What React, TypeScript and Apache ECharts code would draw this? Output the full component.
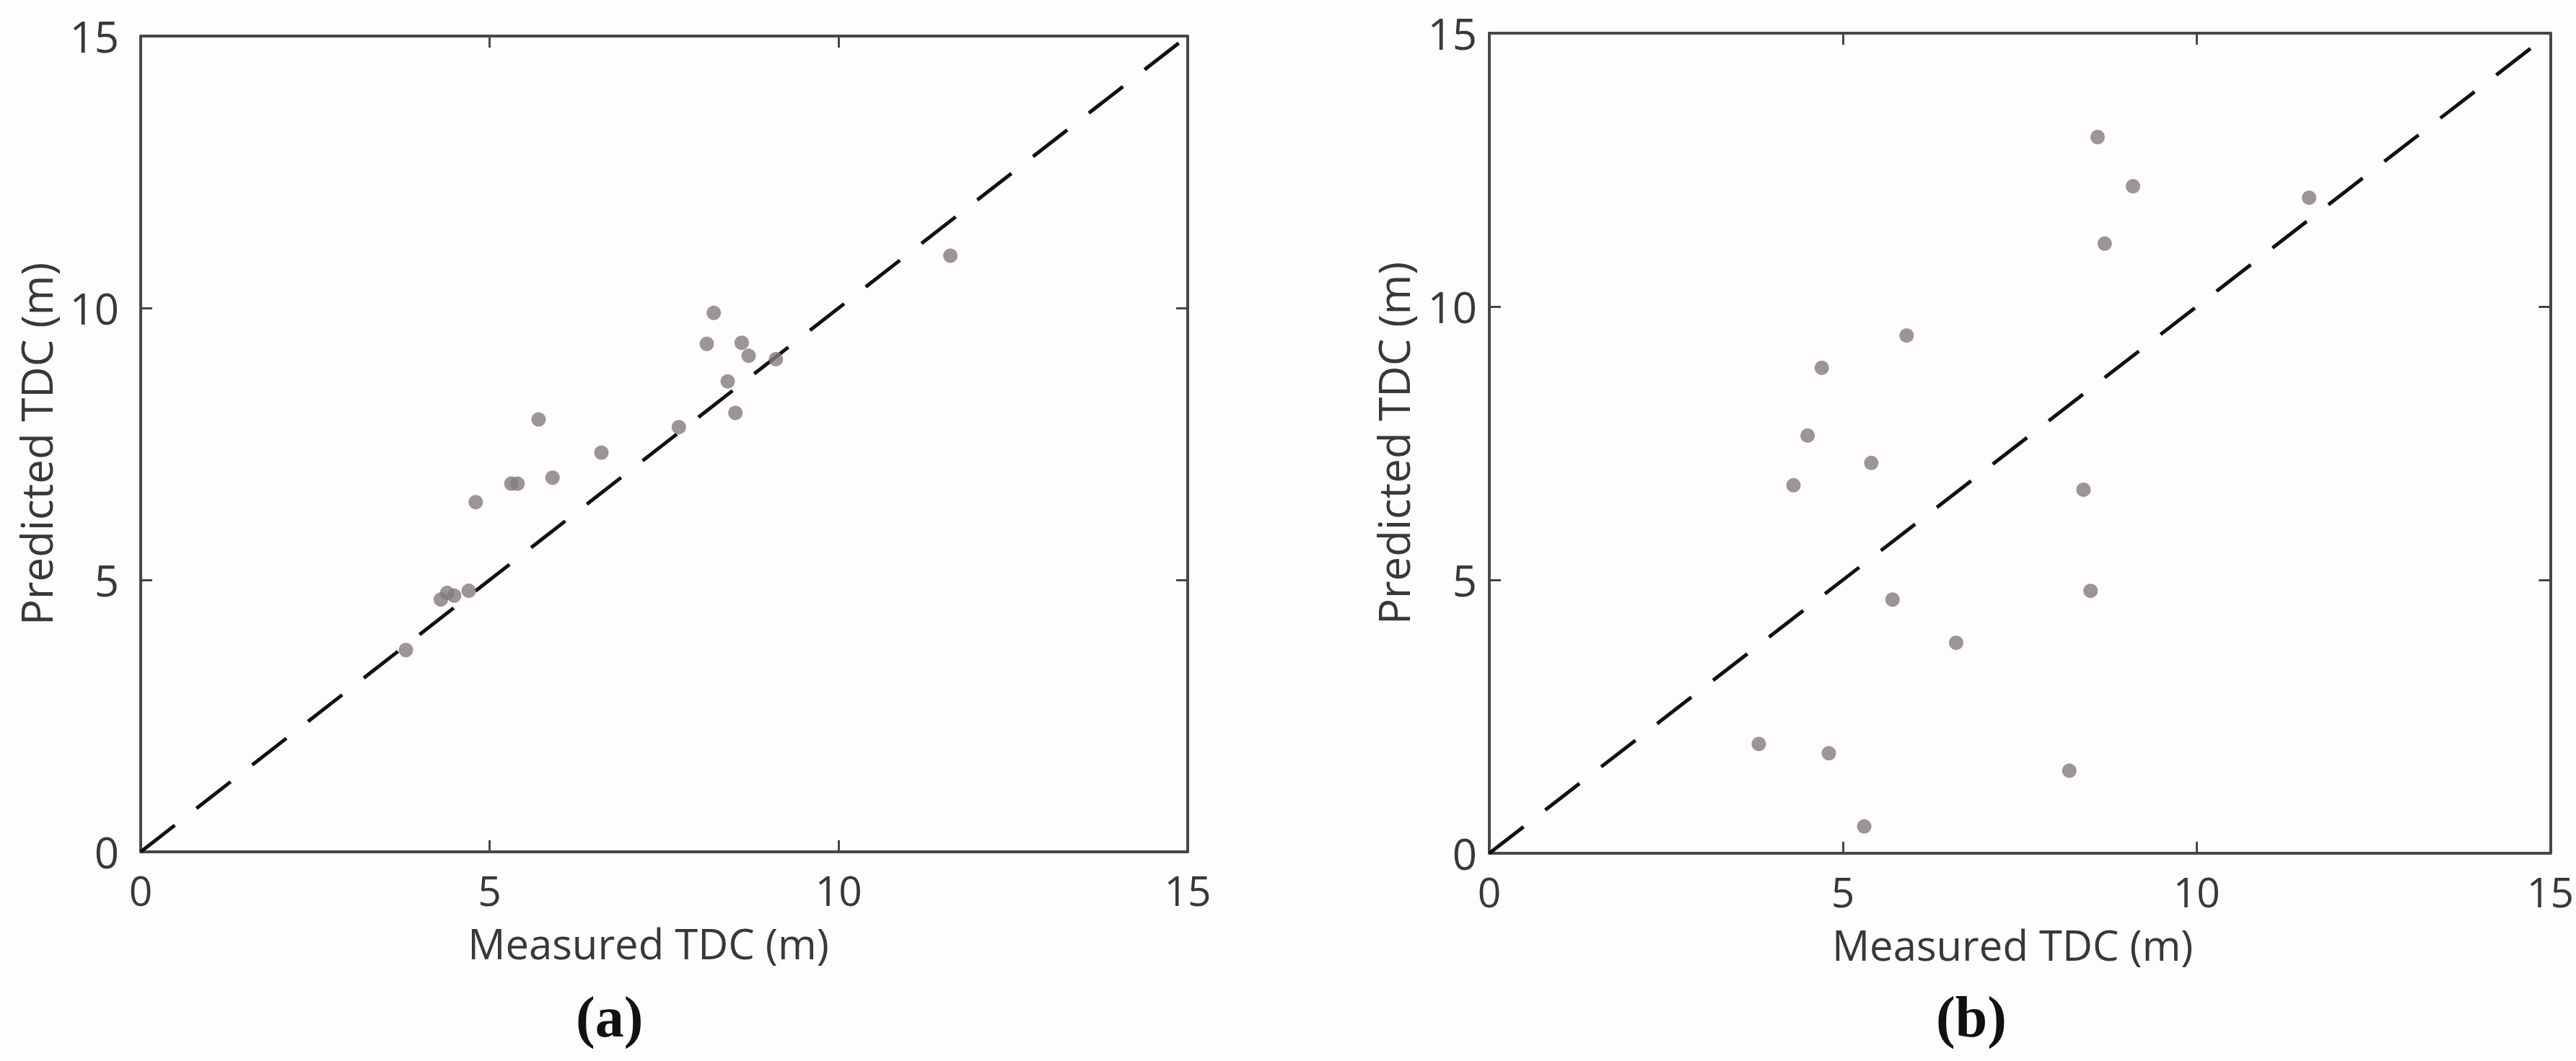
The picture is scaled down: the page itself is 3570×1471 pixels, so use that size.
import React, { useEffect, useRef } from "react";
import * as echarts from "echarts";

// Panel (a): measured vs predicted TDC (m)
const measuredA = [3.8, 4.3, 4.39, 4.49, 4.7, 4.8, 5.31, 5.4, 5.7, 5.9, 6.6, 7.71, 8.11, 8.21, 8.41, 8.52, 8.61, 8.71, 9.1, 11.6];
const predictedA = [3.71, 4.64, 4.76, 4.71, 4.8, 6.43, 6.77, 6.77, 7.95, 6.88, 7.34, 7.81, 9.34, 9.91, 8.65, 8.07, 9.36, 9.12, 9.06, 10.96];

// Panel (b): measured vs predicted TDC (m)
const measuredB = [3.81, 4.3, 4.5, 4.7, 4.8, 5.3, 5.4, 5.7, 5.9, 6.6, 8.2, 8.4, 8.5, 8.6, 8.7, 9.1, 11.59];
const predictedB = [2.0, 6.73, 7.64, 8.88, 1.83, 0.49, 7.14, 4.64, 9.47, 3.85, 1.51, 6.65, 4.8, 13.1, 11.15, 12.2, 11.99];

// 1:1 reference line
const identityLine = [
  [0, 0],
  [15, 15],
];

const axisMin = 0;
const axisMax = 15;
const axisInterval = 5;
const xTitle = "Measured TDC (m)";
const yTitle = "Predicted TDC (m)";
const panelLabels = ["(a)", "(b)"];

const FONT = "'Open Sans', 'Noto Sans', sans-serif";
const AXIS_COLOR = "#474747";
const TEXT_COLOR = "#383838";
const POINT_COLOR = "#837b7b";

function zip(xs: number[], ys: number[]) {
  return xs.map((x, i) => [x, ys[i]]);
}

function mainX(gridIndex: number, titleShift: number) {
  return {
    type: "value",
    gridIndex,
    position: "bottom",
    min: axisMin,
    max: axisMax,
    interval: axisInterval,
    name: xTitle,
    nameLocation: "middle",
    nameGap: 97,
    nameTextStyle: {
      fontSize: 58,
      color: TEXT_COLOR,
      fontFamily: FONT,
      padding: [0, titleShift * 2, 0, 0],
    },
    axisLine: { show: true, onZero: false, lineStyle: { color: AXIS_COLOR, width: 4 } },
    axisTick: { show: true, inside: true, length: 16, lineStyle: { color: AXIS_COLOR, width: 3 } },
    axisLabel: { show: true, fontSize: 57, color: TEXT_COLOR, fontFamily: FONT, margin: 24 },
    splitLine: { show: false },
  };
}

function sideX(gridIndex: number) {
  return {
    type: "value",
    gridIndex,
    position: "top",
    min: axisMin,
    max: axisMax,
    interval: axisInterval,
    axisLine: { show: true, onZero: false, lineStyle: { color: AXIS_COLOR, width: 4 } },
    axisTick: { show: true, inside: true, length: 16, lineStyle: { color: AXIS_COLOR, width: 3 } },
    axisLabel: { show: false },
    splitLine: { show: false },
  };
}

function mainY(gridIndex: number, labelMargin: number, nameGap: number) {
  return {
    type: "value",
    gridIndex,
    position: "left",
    min: axisMin,
    max: axisMax,
    interval: axisInterval,
    name: yTitle,
    nameLocation: "middle",
    nameGap,
    nameTextStyle: { fontSize: 60, lineHeight: 62, color: TEXT_COLOR, fontFamily: FONT },
    axisLine: { show: true, onZero: false, lineStyle: { color: AXIS_COLOR, width: 4 } },
    axisTick: { show: true, inside: true, length: 16, lineStyle: { color: AXIS_COLOR, width: 3 } },
    axisLabel: { show: true, fontSize: 60, color: TEXT_COLOR, fontFamily: FONT, margin: labelMargin },
    splitLine: { show: false },
  };
}

function sideY(gridIndex: number) {
  return {
    type: "value",
    gridIndex,
    position: "right",
    min: axisMin,
    max: axisMax,
    interval: axisInterval,
    axisLine: { show: true, onZero: false, lineStyle: { color: AXIS_COLOR, width: 4 } },
    axisTick: { show: true, inside: true, length: 16, lineStyle: { color: AXIS_COLOR, width: 3 } },
    axisLabel: { show: false },
    splitLine: { show: false },
  };
}

function scatter(xAxisIndex: number, yAxisIndex: number, data: number[][]) {
  return {
    type: "scatter",
    xAxisIndex,
    yAxisIndex,
    data,
    symbol: "circle",
    symbolSize: 20,
    itemStyle: { color: POINT_COLOR },
    z: 3,
  };
}

function refLine(xAxisIndex: number, yAxisIndex: number) {
  return {
    type: "line",
    xAxisIndex,
    yAxisIndex,
    data: identityLine,
    symbol: "none",
    silent: true,
    lineStyle: { color: "#111111", width: 5, type: [60, 38] },
    z: 2,
  };
}

export default function App() {
  const ref = useRef<HTMLDivElement>(null);

  useEffect(() => {
    if (!ref.current) return;
    const chart = echarts.init(ref.current, undefined, { renderer: "svg" });
    chart.setOption({
      animation: false,
      backgroundColor: "#fffdfc",
      grid: [
        { left: 195, top: 50, width: 1451, height: 1131 },
        { left: 2064, top: 46, width: 1477, height: 1137 },
      ],
      xAxis: [mainX(0, 22), sideX(0), mainX(1, 10), sideX(1)],
      yAxis: [mainY(0, 30, 114), sideY(0), mainY(1, 17, 102), sideY(1)],
      series: [
        refLine(0, 0),
        scatter(0, 0, zip(measuredA, predictedA)),
        refLine(2, 2),
        scatter(2, 2, zip(measuredB, predictedB)),
      ],
      graphic: [
        {
          type: "text",
          left: 798,
          top: 1370,
          style: {
            text: panelLabels[0],
            font: "bold 80px 'Liberation Serif', 'Times New Roman', serif",
            fill: "#111111",
          },
        },
        {
          type: "text",
          left: 2683,
          top: 1370,
          style: {
            text: panelLabels[1],
            font: "bold 80px 'Liberation Serif', 'Times New Roman', serif",
            fill: "#111111",
          },
        },
      ],
    });
    return () => chart.dispose();
  }, []);

  return (
    <div
      ref={ref}
      style={{ position: "absolute", left: 0, top: 0, width: 3570, height: 1471 }}
    />
  );
}
